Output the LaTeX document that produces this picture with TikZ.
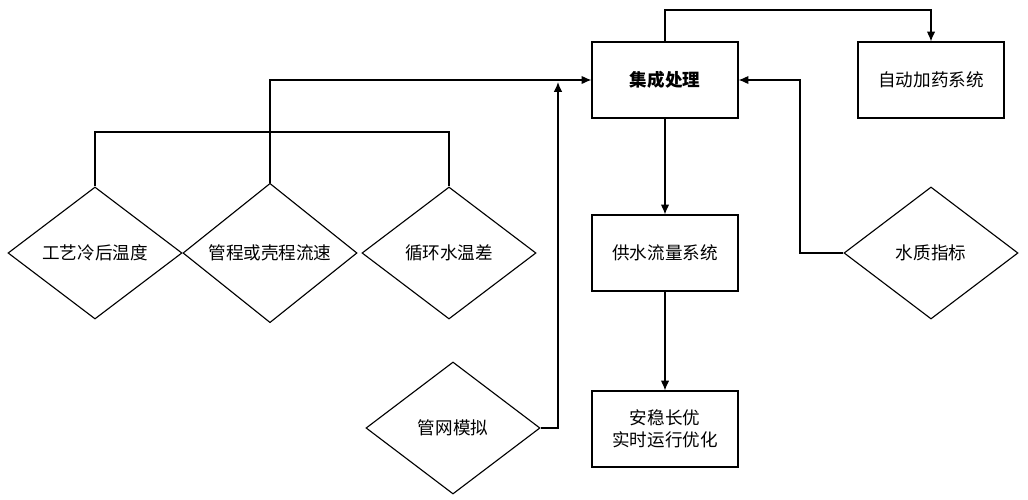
\documentclass[tikz,border=0pt]{standalone}
\usepackage{fontspec}
\setmainfont{Noto Sans CJK SC}
\usetikzlibrary{shapes.geometric,positioning,arrows.meta}

\begin{document}
\begin{tikzpicture}[
  x=0.025cm, y=-0.025cm,
  every node/.style = {font=\fontsize{12.5}{16}\selectfont, align=center},
  box/.style = {shape=rectangle, draw, thick, minimum width=3.65cm, minimum height=1.9cm},
  dia/.style = {shape=diamond, draw, thick, inner sep=0pt, minimum width=4.35cm, minimum height=3.3cm},
  line/.style = {thick},
  arr/.style = {thick, -{Latex[length=7pt,width=6pt]}}
]
  \useasboundingbox (0,0) rectangle (1028,500);
  % boxes
  \node[box] (jc) at (665,80) {\bfseries 集成处理};
  \node[box] (zd) at (931,80) {自动加药系统};
  \node[box] (gs) at (665,253) {供水流量系统};
  \node[box] (aw) at (665,429) {安稳长优\\实时运行优化};
  % diamonds
  \node[dia] (gy) at (95,253) {工艺冷后温度};
  \node[dia] (gc) at (270,253) {管程或壳程流速};
  \node[dia] (xh) at (449,253) {循环水温差};
  \node[dia] (gw) at (453,428) {管网模拟};
  \node[dia] (sz) at (931,253) {水质指标};
  % connectors
  \coordinate (top) at (665,10);
  \draw[arr] (jc.north) |- (top) -| (zd.north);
  \draw[arr] (jc) -- (gs);
  \draw[arr] (gs) -- (aw);
  \draw[line] (gy.north) |- (449,132) -- (xh.north);
  \draw[arr] (gc.north) |- (jc.west);
  \coordinate (gwup) at (558,82);
  \draw[arr] (gw.east) -| (gwup);
  \coordinate (szup) at (800,80);
  \draw[arr] (sz.west) -| (szup) -- (jc.east);
\end{tikzpicture}
\end{document}
